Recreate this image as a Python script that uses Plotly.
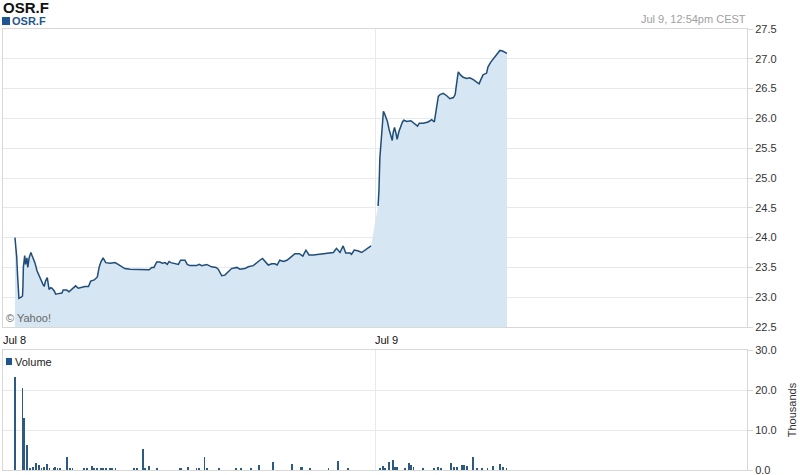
import plotly.graph_objects as go

# ---- data ----
# minutes after session open (08:00), price in EUR
jul8_minutes = [27, 29, 31, 33, 36, 41, 44, 45, 46, 49, 51, 54, 56, 59, 63, 66, 72, 77, 84, 90,
                93, 96, 100, 104, 108, 111, 116, 119, 125, 133, 136, 144, 149, 155, 164, 170, 178,
                185, 193, 198, 206, 213, 217, 221, 226, 232, 242, 253, 260, 268, 275, 287, 294,
                298, 309, 321, 330, 336, 341, 347, 354, 360, 366, 371, 375, 379, 385, 396, 401,
                411, 416, 422, 437, 443, 449, 460, 471, 481, 486, 494, 501, 509, 516, 528, 535,
                546, 554, 565, 573, 580, 586, 592, 599, 607, 614, 619, 625, 633, 641, 648, 659,
                669, 677, 684, 691, 701, 712, 723, 735, 746, 753, 761, 768, 774, 784, 787, 793,
                801, 810, 817, 825, 831]
jul8_prices = [24.00, 23.85, 23.67, 23.35, 22.98, 23.00, 23.02, 23.18, 23.50, 23.70, 23.55, 23.66,
               23.50, 23.66, 23.75, 23.69, 23.58, 23.44, 23.31, 23.22, 23.18, 23.27, 23.33, 23.13,
               23.16, 23.15, 23.10, 23.05, 23.06, 23.07, 23.12, 23.12, 23.09, 23.13, 23.19, 23.15,
               23.17, 23.18, 23.18, 23.27, 23.29, 23.34, 23.50, 23.59, 23.66, 23.58, 23.57, 23.58,
               23.55, 23.51, 23.48, 23.47, 23.47, 23.46, 23.47, 23.46, 23.46, 23.50, 23.50, 23.59,
               23.59, 23.57, 23.58, 23.55, 23.60, 23.58, 23.57, 23.55, 23.62, 23.62, 23.55, 23.53,
               23.53, 23.55, 23.53, 23.55, 23.51, 23.50, 23.47, 23.36, 23.37, 23.42, 23.48, 23.50,
               23.47, 23.48, 23.51, 23.53, 23.57, 23.62, 23.65, 23.60, 23.54, 23.56, 23.56, 23.54,
               23.62, 23.60, 23.62, 23.66, 23.73, 23.73, 23.69, 23.79, 23.71, 23.71, 23.72, 23.73,
               23.74, 23.75, 23.82, 23.75, 23.86, 23.74, 23.74, 23.72, 23.79, 23.78, 23.75, 23.79,
               23.82, 23.86]

jul9_minutes = [7, 9, 11, 14, 17, 19, 21, 24, 28, 32, 35, 39, 41, 44, 47, 50, 54, 58, 62, 65, 72,
                81, 87, 96, 100, 109, 120, 128, 134, 137, 140, 143, 147, 154, 162, 169, 177, 181,
                184, 188, 193, 199, 207, 214, 222, 230, 235, 239, 244, 252, 255, 261, 267, 273,
                277, 282, 288, 293, 298]
jul9_prices = [24.53, 24.81, 25.34, 25.68, 25.90, 26.12, 26.09, 26.04, 25.95, 25.81, 25.72, 25.63,
               25.76, 25.85, 25.76, 25.65, 25.78, 25.87, 25.94, 25.97, 25.95, 25.96, 25.92, 25.87,
               25.92, 25.92, 25.94, 25.98, 25.94, 26.09, 26.19, 26.37, 26.40, 26.42, 26.38, 26.33,
               26.35, 26.40, 26.57, 26.78, 26.73, 26.69, 26.67, 26.68, 26.65, 26.61, 26.58, 26.65,
               26.73, 26.76, 26.86, 26.94, 27.00, 27.04, 27.10, 27.14, 27.13, 27.11, 27.09]

# volume in thousands
jul8_vol_minutes = [28, 44, 48, 55, 62, 68, 75, 82, 87, 93, 100, 105, 114, 117, 123, 129, 145, 151,
                    157, 183, 190, 201, 205, 213, 221, 225, 233, 242, 247, 254, 296, 303, 317, 321,
                    330, 348, 400, 403, 418, 437, 443, 455, 461, 488, 526, 537, 559, 579, 610, 653,
                    672, 676, 693, 735, 756, 780]
jul8_volumes = [23.3, 20.6, 13.1, 6.25, 0.6, 0.7, 1.8, 1.25, 0.6, 0.7, 1.5, 0.4, 0.6, 0.75, 0.6,
                0.4, 3.2, 0.4, 0.3, 0.3, 0.3, 1.0, 0.5, 0.3, 0.5, 0.4, 0.3, 0.5, 0.3, 0.4, 0.3, 0.3,
                5.25, 0.3, 1.0, 0.3, 0.3, 0.3, 0.8, 0.3, 0.5, 3.2, 0.3, 0.3, 0.3, 0.6, 0.3, 1.25,
                2.1, 1.5, 0.8, 0.8, 0.3, 0.3, 2.3, 0.3]
jul9_vol_minutes = [11, 19, 23, 32, 40, 45, 50, 68, 77, 81, 87, 108, 134, 143, 148, 171, 178, 186,
                    196, 201, 207, 222, 230, 241, 254, 267, 282, 290, 297]
jul9_volumes = [0.3, 1.0, 0.6, 2.0, 2.5, 0.8, 0.7, 0.4, 1.7, 1.3, 0.8, 0.3, 0.3, 0.7, 0.5, 1.7, 0.8,
                0.7, 1.2, 1.3, 1.0, 3.2, 0.5, 0.4, 0.6, 1.0, 1.5, 0.7, 0.5]

day_labels = ["Jul 8", "Jul 9"]
session_hours = 14  # hours shown per trading day
price_ticks = [22.5, 23.0, 23.5, 24.0, 24.5, 25.0, 25.5, 26.0, 26.5, 27.0, 27.5]
volume_ticks = [0, 10, 20, 30]

# ---- derived positions (session hours across both days) ----
x8 = [m / 60 for m in jul8_minutes]
x9 = [session_hours + m / 60 for m in jul9_minutes]
xv8 = [m / 60 for m in jul8_vol_minutes]
xv9 = [session_hours + m / 60 for m in jul9_vol_minutes]

LINE = "#1f4d78"
FILL = "#d6e6f2"
GRID = "#e6e9ed"
BORDER = "#d8d8d8"
FONT = "Liberation Sans, Arial, sans-serif"

# pixel helpers for paper coordinates (plot area: x 3..747, y 29..470)
PW, PH = 744.0, 441.0
def px(x):
    return (x - 3) / PW
def py(y):
    return (470 - y) / PH

fig = go.Figure()
fig.add_trace(go.Scatter(x=x8 + x9, y=jul8_prices + jul9_prices, mode="lines",
                         line=dict(width=0, color=FILL), fill="tozeroy", fillcolor=FILL,
                         hoverinfo="skip", xaxis="x", yaxis="y"))
fig.add_trace(go.Scatter(x=x8 + [None] + x9, y=jul8_prices + [None] + jul9_prices, mode="lines",
                         line=dict(width=1.5, color=LINE), connectgaps=False,
                         xaxis="x", yaxis="y"))
fig.add_trace(go.Bar(x=xv8 + xv9, y=jul8_volumes + jul9_volumes, width=0.035,
                     marker=dict(color="#2c5a80", line=dict(width=0)),
                     xaxis="x2", yaxis="y2"))

xcommon = dict(range=[0, 2 * session_hours], tickvals=[0, session_hours], showticklabels=False,
               showgrid=True, gridcolor=GRID, gridwidth=1, zeroline=False, automargin=False,
               showline=True, linecolor=BORDER, mirror=True, ticks="", fixedrange=True)

fig.update_layout(
    width=800, height=475,
    margin=dict(l=3, r=53, t=29, b=5, autoexpand=False),
    paper_bgcolor="white", plot_bgcolor="white",
    showlegend=False,
    bargap=0,
    font=dict(family=FONT, size=11, color="#333333"),
    xaxis=dict(domain=[0, 1], anchor="y", **xcommon),
    xaxis2=dict(domain=[0, 1], anchor="y2", **xcommon),
    yaxis=dict(domain=[py(327), 1.0], anchor="x", side="right", range=[22.5, 27.5],
               tickvals=price_ticks, tickformat=".1f", showgrid=True, gridcolor=GRID,
               zeroline=False, showline=True, linecolor=BORDER, mirror=True, automargin=False,
               ticks="outside", ticklen=5, tickcolor=BORDER, ticklabeloverflow="allow",
               tickfont=dict(size=11, color="#333333")),
    yaxis2=dict(domain=[0, py(350)], anchor="x2", side="right", range=[0, 30],
                tickvals=volume_ticks, tickformat=".1f", showgrid=True, gridcolor=GRID,
                zeroline=False, showline=True, linecolor=BORDER, mirror=True, automargin=False,
                ticks="outside", ticklen=5, tickcolor=BORDER, ticklabeloverflow="allow",
                tickfont=dict(size=11, color="#333333"),
                title=dict(text="Thousands", font=dict(size=11, color="#333333"), standoff=12)),
)

annotations = [
    dict(text="<b>OSR.F</b>", xref="paper", yref="paper", x=px(1), y=py(7),
         xanchor="left", yanchor="middle", showarrow=False, font=dict(size=15, color="#111111")),
    dict(text="<b>OSR.F</b>", xref="paper", yref="paper", x=px(10), y=py(21),
         xanchor="left", yanchor="middle", showarrow=False, font=dict(size=11, color="#1f5591")),
    dict(text="Jul 9, 12:54pm CEST", xref="paper", yref="paper", x=px(748), y=py(19),
         xanchor="right", yanchor="middle", showarrow=False, font=dict(size=11, color="#a0a0a0")),
    dict(text="© Yahoo!", xref="paper", yref="paper", x=px(4), y=py(318),
         xanchor="left", yanchor="middle", showarrow=False, font=dict(size=11, color="#666666")),
    dict(text="Volume", xref="paper", yref="paper", x=px(13), y=py(362),
         xanchor="left", yanchor="middle", showarrow=False, font=dict(size=11, color="#222222")),
]
for i, lab in enumerate(day_labels):
    annotations.append(dict(text=lab, xref="x", yref="paper", x=i * session_hours,
                            y=py(340), xanchor="left", yanchor="middle",
                            showarrow=False, xshift=-2, font=dict(size=11, color="#111111")))
fig.update_layout(annotations=annotations)

fig.update_layout(shapes=[
    dict(type="rect", xref="paper", yref="paper", x0=px(2), x1=px(10),
         y0=py(25), y1=py(17), fillcolor="#1f5591", line=dict(width=0)),
    dict(type="rect", xref="paper", yref="paper", x0=px(6), x1=px(12),
         y0=py(365), y1=py(358), fillcolor="#1f5591", line=dict(width=0)),
])

fig.write_html("out.html", config={"displayModeBar": False},
               post_script="document.body.style.margin='0px';document.body.style.padding='0px';")
